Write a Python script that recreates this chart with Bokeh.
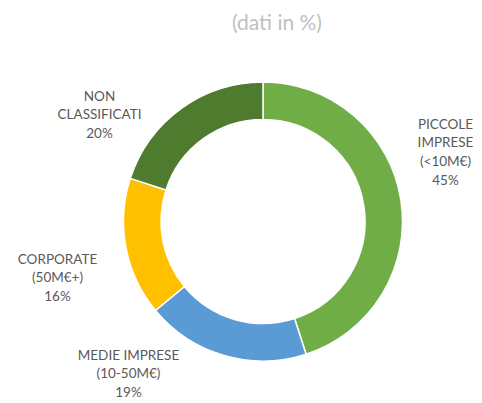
import math
from bokeh.plotting import figure
from bokeh.models import ColumnDataSource, Range1d
from bokeh.core.properties import value
from bokeh.embed import file_html
from bokeh.resources import INLINE

# ---- data ----
categories = ["PICCOLE\nIMPRESE\n(<10M€)", "MEDIE IMPRESE\n(10-50M€)", "CORPORATE\n(50M€+)", "NON\nCLASSIFICATI"]
values = [45, 19, 16, 20]
colors = ["#70AD47", "#5B9BD5", "#FFC000", "#4F7B2F"]
subtitle = "(dati in %)"

W, H = 482, 403
p = figure(width=W, height=H, output_backend="svg", toolbar_location=None,
           x_range=Range1d(0, W), y_range=Range1d(0, H), min_border=0)
p.axis.visible = False
p.grid.visible = False
p.outline_line_color = None

def Y(img_y):
    return H - img_y

cx, cy = 262.5, Y(221)
r_out, r_in = 139.5, 102.0

total = float(sum(values))
starts, ends = [], []
acc = 0.0
for v in values:
    starts.append(math.pi / 2 - acc / total * 2 * math.pi)
    acc += v
    ends.append(math.pi / 2 - acc / total * 2 * math.pi)

src = ColumnDataSource(dict(x=[cx] * len(values), y=[cy] * len(values),
                            start=starts, end=ends, color=colors))
p.annular_wedge(x="x", y="y", inner_radius=r_in, outer_radius=r_out,
                start_angle="start", end_angle="end", direction="clock",
                fill_color="color", line_color="white", line_width=1.5, source=src)

# labels: (center x, first-line y) in picture pixels -- layout only
lab_pos = [(445, 123), (128, 354), (57, 258), (99, 95)]
line_step = 18.7
tx, ty, tt = [], [], []
for (lx, ly), c, v in zip(lab_pos, categories, values):
    lines = c.split("\n") + [f"{v}%"]
    for i, s in enumerate(lines):
        tx.append(lx)
        ty.append(Y(ly + i * line_step))
        tt.append(s)
p.text(x=tx, y=ty, text=tt, text_align="center", text_baseline="middle",
       text_font=value("Lato"), text_font_size="13.5px", text_color="#595959")

p.text(x=[276.5], y=[Y(21)], text=[subtitle], text_align="center", text_baseline="middle",
       text_font=value("Lato"), text_font_size="21px", text_color="#BFBFBF")

open("out.html", "w").write(file_html(p, INLINE))
